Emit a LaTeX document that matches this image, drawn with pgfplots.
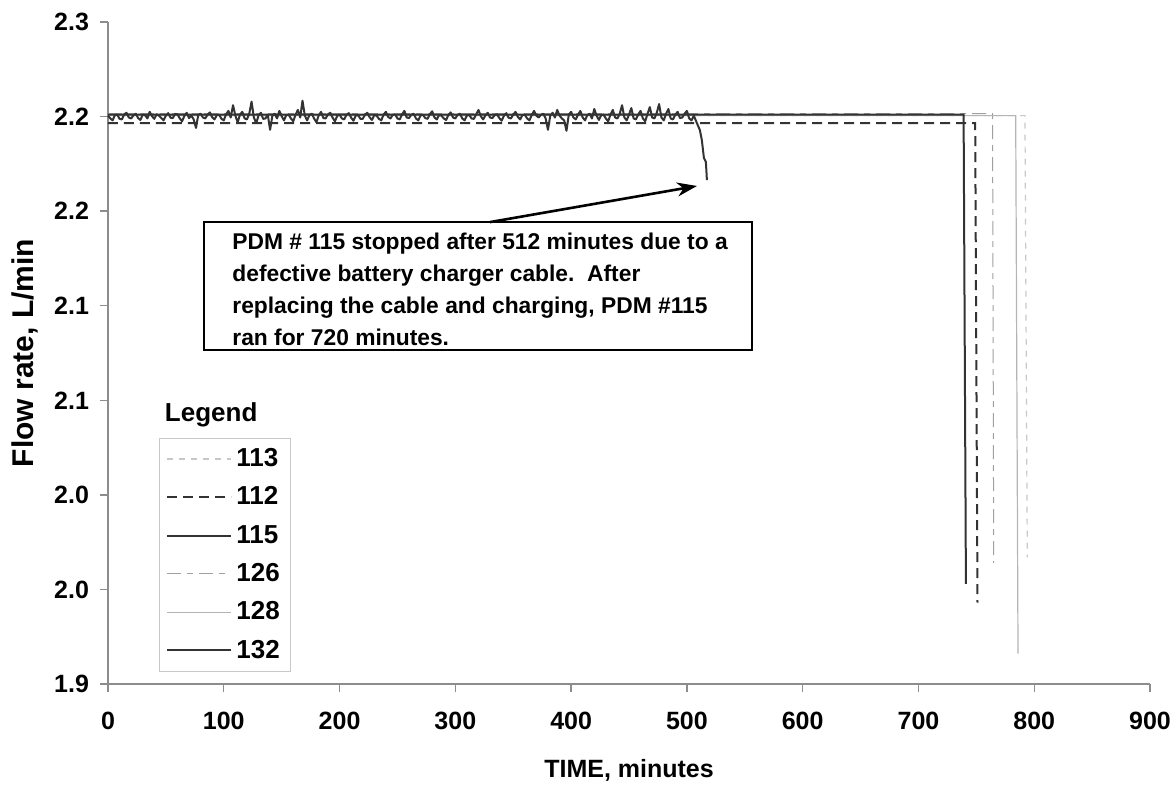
\documentclass[border=0pt]{standalone}
\usepackage{pgfplots}
\pgfplotsset{compat=1.18}
\usepackage{fontspec}
\setmainfont{Liberation Sans}
\usetikzlibrary{arrows.meta}

\definecolor{dk}{HTML}{333333}
\definecolor{axgray}{HTML}{8C8C8C}
\definecolor{pale}{HTML}{C8C8C8}
\definecolor{mid}{HTML}{A0A0A0}
\definecolor{soft}{HTML}{B4B4B4}

\begin{document}
\begin{tikzpicture}
\begin{axis}[
    width=521pt, height=331pt, scale only axis,
    xmin=0, xmax=900, ymin=1.9, ymax=2.25,
    axis lines=left,
    axis line style={-, draw=axgray, line width=0.7pt},
    xtick={0,100,...,900},
    ytick={1.9,1.95,2.0,2.05,2.1,2.15,2.2,2.25},
    yticklabels={1.9,2.0,2.0,2.1,2.1,2.2,2.2,2.3},
    tick align=outside, major tick length=4pt,
    tick style={draw=axgray, line width=0.7pt},
    /pgf/number format/assume math mode=true,
    ticklabel style={font=\fontsize{12.5}{14}\selectfont\bfseries},
    xticklabel style={yshift=-6.5pt},
    yticklabel style={xshift=-2pt},
    xlabel={TIME, minutes},
    ylabel={Flow rate, L/min},
    xlabel style={font=\fontsize{12.5}{14}\selectfont\bfseries,
        at={(axis description cs:0.5,-0.13)}, anchor=center},
    ylabel style={font=\fontsize{15}{17}\selectfont\bfseries,
        at={(axis description cs:-0.0797,0.5)}, anchor=center},
    clip=false,
    legend style={at={(axis description cs:0.049,0.3716)}, anchor=north west,
        draw=pale, fill=white, font=\fontsize{13}{15}\selectfont\bfseries,
        inner xsep=3.5pt, inner ysep=3pt, row sep=4.6pt,
        nodes={inner sep=2pt}},
    legend cell align=left,
    legend image code/.code={\draw[#1] (0pt,0pt) -- (29pt,0pt);
        \path (0pt,0pt) -- (32pt,0pt);},
]

% legend entries (plots below are drawn without their own entries)
\addlegendimage{pale, line width=0.6pt, dash pattern=on 3pt off 3pt}
\addlegendentry{113}
\addlegendimage{dk, line width=1pt, dash pattern=on 5pt off 3pt}
\addlegendentry{112}
\addlegendimage{dk, line width=1pt}
\addlegendentry{115}
\addlegendimage{mid, line width=0.5pt, dash pattern=on 7pt off 3pt on 3pt off 3pt}
\addlegendentry{126}
\addlegendimage{soft, line width=0.6pt}
\addlegendentry{128}
\addlegendimage{dk, line width=1pt}
\addlegendentry{132}

% 113
\addplot[forget plot, pale, line width=0.6pt, dash pattern=on 3pt off 3pt] coordinates {
    (0,2.2005) (792,2.2005) (794,1.967)
};
% 126
\addplot[forget plot, mid, line width=0.5pt, dash pattern=on 7pt off 3pt on 3pt off 3pt] coordinates {
    (0,2.2015) (764,2.2015) (765,1.964)
};
% 128
\addplot[forget plot, soft, line width=0.6pt] coordinates {
    (0,2.2005) (784,2.2005) (786,1.916)
};
% 112
\addplot[forget plot, dk, line width=1pt, dash pattern=on 5pt off 3pt] coordinates {
    (0,2.1965) (749,2.1965) (751,1.943)
};
% 132
\addplot[forget plot, dk, line width=1pt] coordinates {
    (0,2.2010) (739,2.2010) (741,1.953)
};
% 115
\addplot[forget plot, dk, line width=1pt, line join=round] coordinates {
    (0,2.2005) (2,2.1990) (4,2.1980) (6,2.2008) (8,2.2010) (10,2.1988)
    (12,2.1985) (14,2.2012) (16,2.2020) (18,2.1995) (20,2.1990) (22,2.2006)
    (24,2.2015) (26,2.1992) (28,2.1982) (30,2.2010) (32,2.2008) (34,2.1990)
    (36,2.2025) (38,2.2002) (40,2.1988) (42,2.2012) (44,2.2005) (46,2.1992)
    (48,2.1980) (50,2.2005) (52,2.2018) (54,2.1994) (56,2.1992) (58,2.2014)
    (60,2.2012) (62,2.1990) (64,2.1975) (66,2.2004) (68,2.2020) (70,2.1992)
    (72,2.2005) (74,2.1985) (76,2.1940) (78,2.2010) (80,2.2015) (82,2.1995)
    (84,2.1990) (86,2.2010) (88,2.2022) (90,2.1996) (92,2.1985) (94,2.2008)
    (96,2.2010) (98,2.1988) (100,2.1980) (102,2.2012) (104,2.2030) (106,2.1995)
    (108,2.2060) (110,2.2005) (112,2.1970) (114,2.2010) (116,2.2025) (118,2.1990)
    (120,2.1985) (122,2.2015) (124,2.2079) (126,2.1995) (128,2.1965) (130,2.2005)
    (132,2.2020) (134,2.1988) (136,2.1990) (138,2.2010) (140,2.1930) (142,2.2005)
    (144,2.2015) (146,2.1990) (148,2.2030) (150,2.2002) (152,2.1980) (154,2.2008)
    (156,2.2010) (158,2.1990) (160,2.1975) (162,2.2010) (164,2.2035) (166,2.1995)
    (168,2.2084) (170,2.2005) (172,2.1980) (174,2.2008) (176,2.2015) (178,2.1990)
    (180,2.1970) (182,2.2006) (184,2.2025) (186,2.1992) (188,2.1990) (190,2.2012)
    (192,2.2020) (194,2.1994) (196,2.1975) (198,2.2004) (200,2.2010) (202,2.1990)
    (204,2.1985) (206,2.2010) (208,2.2018) (210,2.1994) (212,2.1978) (214,2.2005)
    (216,2.2008) (218,2.1988) (220,2.1988) (222,2.2010) (224,2.2020) (226,2.1996)
    (228,2.1982) (230,2.2008) (232,2.2005) (234,2.1988) (236,2.1980) (238,2.2010)
    (240,2.2025) (242,2.1998) (244,2.1990) (246,2.2010) (248,2.2012) (250,2.1990)
    (252,2.1985) (254,2.2012) (256,2.2030) (258,2.1995) (260,2.1992) (262,2.2010)
    (264,2.2015) (266,2.1990) (268,2.1980) (270,2.2006) (272,2.2010) (274,2.1992)
    (276,2.1988) (278,2.2012) (280,2.2028) (282,2.1995) (284,2.1985) (286,2.2008)
    (288,2.2005) (290,2.1990) (292,2.1982) (294,2.2008) (296,2.2022) (298,2.1995)
    (300,2.1990) (302,2.2010) (304,2.2015) (306,2.1990) (308,2.1980) (310,2.2006)
    (312,2.2008) (314,2.1990) (316,2.1988) (318,2.2012) (320,2.2035) (322,2.2002)
    (324,2.1985) (326,2.2006) (328,2.2020) (330,2.1995) (332,2.1992) (334,2.2008)
    (336,2.2012) (338,2.1992) (340,2.1978) (342,2.2005) (344,2.2018) (346,2.1994)
    (348,2.1990) (350,2.2010) (352,2.2025) (354,2.1998) (356,2.1985) (358,2.2008)
    (360,2.2010) (362,2.1990) (364,2.1980) (366,2.2008) (368,2.2030) (370,2.2005)
    (372,2.1995) (374,2.2010) (376,2.2015) (378,2.1990) (380,2.1930) (382,2.2005)
    (384,2.2020) (386,2.1995) (388,2.2035) (390,2.2005) (392,2.1990) (394,2.1980)
    (396,2.1925) (398,2.2010) (400,2.2025) (402,2.1995) (404,2.1985) (406,2.2010)
    (408,2.2030) (410,2.1995) (412,2.1980) (414,2.2008) (416,2.2015) (418,2.1990)
    (420,2.2040) (422,2.2005) (424,2.1982) (426,2.2008) (428,2.2010) (430,2.1990)
    (432,2.1975) (434,2.2010) (436,2.2035) (438,2.1995) (440,2.1990) (442,2.2015)
    (444,2.2060) (446,2.1995) (448,2.1980) (450,2.2010) (452,2.2045) (454,2.1990)
    (456,2.1985) (458,2.2012) (460,2.2030) (462,2.1990) (464,2.1975) (466,2.2015)
    (468,2.2050) (470,2.1995) (472,2.1990) (474,2.2020) (476,2.2066) (478,2.1995)
    (480,2.1980) (482,2.2015) (484,2.2040) (486,2.1990) (488,2.1985) (490,2.2010)
    (492,2.2025) (494,2.1992) (496,2.1995) (498,2.2015) (500,2.2030) (502,2.1990)
    (504,2.1980) (506,2.2005) (508.6,2.1966) (511.2,2.1929) (512.9,2.1876)
    (514.7,2.1781) (516.4,2.1760) (517.3,2.1664)
};

% note box and arrow
\draw[black, line width=1pt, fill=white] (axis cs:82.9,2.1442) rectangle (axis cs:556.2,2.0766);
\draw[black, line width=1.3pt, -{Stealth[length=10pt,width=7pt]}]
    (axis cs:329.9,2.1442) -- (axis cs:508.7,2.1633);
\node[anchor=north west, align=left, inner sep=0pt,
      font=\fontsize{11.4}{16}\selectfont\bfseries]
    at (axis cs:107.1,2.1388)
    {PDM \# 115 stopped after 512 minutes due to a\\
     defective battery charger cable.\ \ After\\
     replacing the cable and charging, PDM \#115\\
     ran for 720 minutes.};

\node[font=\fontsize{13}{15}\selectfont\bfseries, anchor=center]
    at (axis description cs:0.099,0.406) {Legend};
\end{axis}
\pgfresetboundingbox
\path (current axis.south west) ++(-54pt,-51.5pt) rectangle ++(588pt,393.5pt);
\end{tikzpicture}
\end{document}
